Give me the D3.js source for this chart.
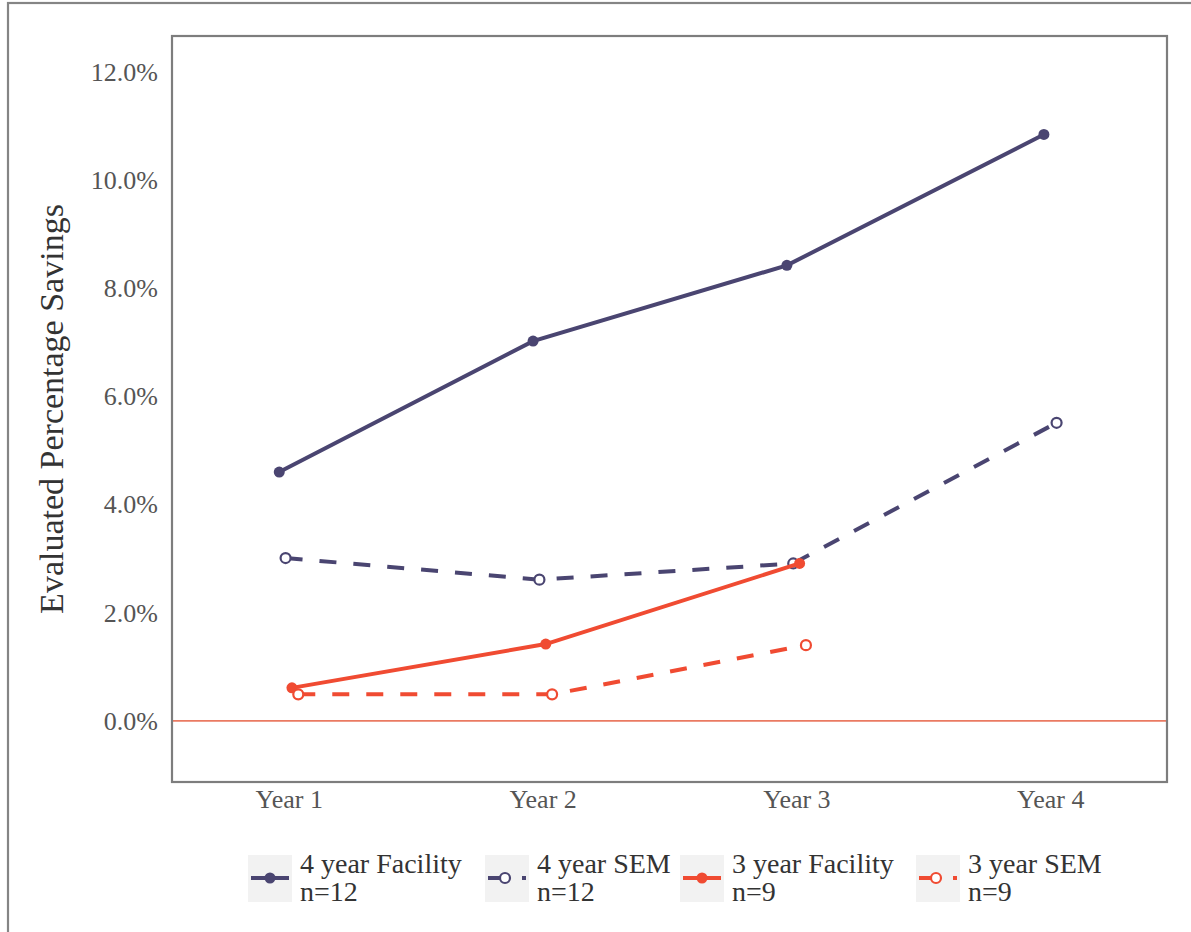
<!DOCTYPE html>
<html>
<head>
<meta charset="utf-8">
<script src="https://cdn.jsdelivr.net/npm/d3@7"></script>
<style>
  html, body { margin: 0; padding: 0; background: #fff; }
  svg { display: block; }
  text { font-family: "Liberation Serif", "DejaVu Serif", serif; }
</style>
</head>
<body>
<svg id="chart" width="1191" height="932"></svg>
<script>
// ---- data ----
const years = ["Year 1", "Year 2", "Year 3", "Year 4"];
const seriesNames = ["4 year Facility", "4 year SEM", "3 year Facility", "3 year SEM"];
const seriesN = ["n=12", "n=12", "n=9", "n=9"];
const facility4 = [4.6, 7.02, 8.42, 10.84];
const sem4 = [3.01, 2.61, 2.91, 5.51];
const facility3 = [0.61, 1.42, 2.91, null];
const sem3 = [0.49, 0.49, 1.40, null];
const yTicks = [0, 2, 4, 6, 8, 10, 12];

// ---- styles ----
const navy = "#4a4571";
const red = "#f04b32";
const styles = [
  { color: navy, dash: null, open: false },
  { color: navy, dash: "17,17", open: true },
  { color: red, dash: null, open: false },
  { color: red, dash: "17,17", open: true }
];
const seriesValues = [facility4, sem4, facility3, sem3];

const svg = d3.select("#chart");

// outer frame
svg.append("rect").attr("x", 8).attr("y", 3).attr("width", 1300).attr("height", 1000)
  .attr("fill", "none").attr("stroke", "#858585").attr("stroke-width", 2.2);

const plot = { left: 172, right: 1167, top: 36, bottom: 782 };

const x = d3.scalePoint().domain(years).range([plot.left, plot.right]).padding(0.46);
const y = d3.scaleLinear().domain([-1.13, 12.66]).range([plot.bottom, plot.top]);
const dodgeW = x.step() * 0.1;

// zero line
svg.append("line").attr("x1", plot.left).attr("x2", plot.right)
  .attr("y1", y(0)).attr("y2", y(0)).attr("stroke", "#ea7a62").attr("stroke-width", 1.6);

// y axis labels
const yAxis = d3.axisLeft(y).tickValues(yTicks).tickSize(0).tickPadding(14)
  .tickFormat(d => d.toFixed(1) + "%");
const gy = svg.append("g").attr("transform", `translate(${plot.left},0)`).call(yAxis);
gy.select(".domain").remove();
gy.selectAll("text").attr("fill", "#555").style("font-size", "26px")
  .style("font-family", '"Liberation Serif", serif');

// x axis labels
const xAxis = d3.axisBottom(x).tickSize(0).tickPadding(8);
const gx = svg.append("g").attr("transform", `translate(0,${plot.bottom})`).call(xAxis);
gx.select(".domain").remove();
gx.selectAll("text").attr("fill", "#555").style("font-size", "26px")
  .style("font-family", '"Liberation Serif", serif');

// y title
svg.append("text")
  .attr("transform", `translate(63,409) rotate(-90)`)
  .attr("text-anchor", "middle").attr("fill", "#333").style("font-size", "34px")
  .text("Evaluated Percentage Savings");

// compute dodged positions
function xPos(si, yi) {
  const present = seriesValues.map((s, k) => s[yi] != null ? k : -1).filter(k => k >= 0);
  const n = present.length;
  const idx = present.indexOf(si);
  return x(years[yi]) + (idx - (n - 1) / 2) * (dodgeW / n);
}

const line = d3.line().defined(d => d.v != null).x(d => d.x).y(d => y(d.v));

seriesValues.forEach((vals, si) => {
  const st = styles[si];
  const pts = vals.map((v, yi) => ({ v, x: v != null ? xPos(si, yi) : 0 })).filter(d => d.v != null);
  const g = svg.append("g");
  g.append("path").datum(pts).attr("d", line).attr("fill", "none")
    .attr("stroke", st.color).attr("stroke-width", 4)
    .attr("stroke-dasharray", st.dash);
  g.selectAll("circle").data(pts).join("circle")
    .attr("cx", d => d.x).attr("cy", d => y(d.v))
    .attr("r", st.open ? 5 : 5.5)
    .attr("fill", st.open ? "#fff" : st.color)
    .attr("stroke", st.color).attr("stroke-width", st.open ? 2.2 : 0);
});

// plot border
svg.append("rect").attr("x", plot.left).attr("y", plot.top)
  .attr("width", plot.right - plot.left).attr("height", plot.bottom - plot.top)
  .attr("fill", "none").attr("stroke", "#7d7d7d").attr("stroke-width", 2.2);

// legend
const legendX = [248, 485, 680, 916];
const keyW = 44, keyTop = 855, keyH = 47;
seriesNames.forEach((name, si) => {
  const st = styles[si];
  const g = svg.append("g").attr("transform", `translate(${legendX[si]},0)`);
  g.append("rect").attr("x", 0).attr("y", keyTop).attr("width", keyW).attr("height", keyH)
    .attr("fill", "#f2f2f2");
  const cy = keyTop + 23;
  g.append("line").attr("x1", 3).attr("x2", keyW - 3).attr("y1", cy).attr("y2", cy)
    .attr("stroke", st.color).attr("stroke-width", 4).attr("stroke-dasharray", st.dash);
  g.append("circle").attr("cx", st.open ? 20 : 22).attr("cy", cy)
    .attr("r", st.open ? 5 : 5.5)
    .attr("fill", st.open ? "#fff" : st.color)
    .attr("stroke", st.color).attr("stroke-width", st.open ? 2.2 : 0);
  const t = g.append("text").attr("x", keyW + 8).attr("fill", "#333").style("font-size", "28px");
  t.append("tspan").attr("x", keyW + 8).attr("y", 873).text(name);
  t.append("tspan").attr("x", keyW + 8).attr("y", 901).text(seriesN[si]);
});
</script>
</body>
</html>
